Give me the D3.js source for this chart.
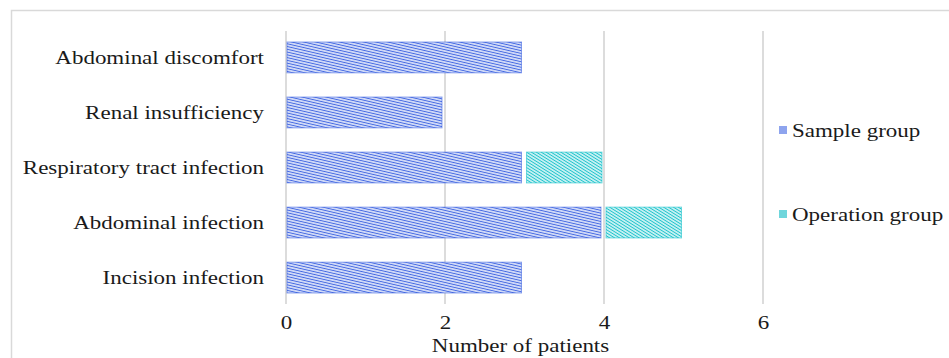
<!DOCTYPE html>
<html>
<head>
<meta charset="utf-8">
<script src="https://cdn.jsdelivr.net/npm/d3@7"></script>
<style>
  body { margin: 0; background: #fff; }
</style>
</head>
<body>
<div id="chart-area"></div>
<script>
const categories = ["Abdominal discomfort", "Renal insufficiency", "Respiratory tract infection", "Abdominal infection", "Incision infection"]
const sampleGroup = [3, 2, 3, 4, 3]
const operationGroup = [0, 0, 1, 1, 0]
const seriesNames = ["Sample group", "Operation group"]
const xTicks = [0, 2, 4, 6]

const W = 949, H = 358
const MARGIN = { left: 286, right: 186, top: 31, bottom: 54 }
const HEIGHT = H - MARGIN.top - MARGIN.bottom
const SERIF = "'Liberation Serif'"
const STRETCH = 1.21   // the reference text looks stretched sideways

// text in a serif face, widened around its own anchor point
function serifText(sel, x0, y0) {
    sel.attr("x", 0).attr("y", 0)
        .attr("font-family", null)
        .style("font-family", SERIF)
        .style("font-size", "19px")
        .style("fill", "#1a1a1a")
        .attr("transform", `translate(${x0}, ${y0}) scale(${STRETCH}, 1)`)
}

const svg = d3.select("#chart-area").append("svg")
    .attr("width", W)
    .attr("height", H)

// outer frame
svg.append("rect")
    .attr("x", 11.5).attr("y", 10.5)
    .attr("width", 960).attr("height", 360)
    .attr("fill", "none")
    .attr("stroke", "#d9d9d9")
    .attr("stroke-width", 1.5)

const defs = svg.append("defs")
function hatch(id, color, angle, gap) {
    const p = defs.append("pattern")
        .attr("id", id)
        .attr("patternUnits", "userSpaceOnUse")
        .attr("width", 40).attr("height", gap)
        .attr("patternTransform", `rotate(${angle})`)
    p.append("rect").attr("width", 40).attr("height", gap).attr("fill", "#fff")
    p.append("line")
        .attr("x1", 0).attr("x2", 40).attr("y1", gap / 2).attr("y2", gap / 2)
        .attr("stroke", color).attr("stroke-width", 1.4)
}
const colors = ["#4469e2", "#1ec3cc"]
hatch("hatch0", colors[0], 13, 2.7)
hatch("hatch1", colors[1], 32, 2.6)

const g = svg.append("g")
    .attr("transform", `translate(${MARGIN.left}, ${MARGIN.top})`)

const x = d3.scaleLinear()
    .domain([0, 6])
    .range([0, 477])

const y = d3.scaleBand()
    .domain(categories)
    .range([0, HEIGHT])
    .paddingInner(0.44)
    .paddingOuter(0.2)

// grid
g.selectAll(".grid")
    .data(xTicks)
    .enter().append("line")
    .attr("x1", d => x(d)).attr("x2", d => x(d))
    .attr("y1", 0).attr("y2", HEIGHT)
    .attr("stroke", "#d0d0d0")
    .attr("stroke-width", 1.5)

const xAxisCall = d3.axisBottom(x).tickValues(xTicks).tickFormat(d3.format("d")).tickSize(0)
const xAxis = g.append("g")
    .attr("transform", `translate(0, ${HEIGHT})`)
    .call(xAxisCall)
    .attr("font-family", null)
xAxis.select(".domain").remove()
xAxis.selectAll("text").attr("dy", null).call(serifText, 0, 25)

const yAxisCall = d3.axisLeft(y).tickSize(0)
const yAxis = g.append("g").call(yAxisCall)
    .attr("font-family", null)
yAxis.select(".domain").remove()
yAxis.selectAll("text").call(serifText, -22, 0)

g.append("text")
    .attr("text-anchor", "middle")
    .text("Number of patients")
    .call(serifText, x(3) - 4, HEIGHT + 48)

const rows = categories.map((c, i) => ({ cat: c, s: sampleGroup[i], o: operationGroup[i] }))

g.selectAll(".bar-s")
    .data(rows)
    .enter().append("rect")
    .attr("x", x(0) + 1)
    .attr("y", d => y(d.cat))
    .attr("width", d => x(d.s) - x(0) - 4)
    .attr("height", y.bandwidth())
    .attr("fill", "url(#hatch0)")
    .attr("stroke", colors[0])
    .attr("stroke-opacity", 0.6)

g.selectAll(".bar-o")
    .data(rows.filter(d => d.o > 0))
    .enter().append("rect")
    .attr("x", d => x(d.s) + 2)
    .attr("y", d => y(d.cat))
    .attr("width", d => x(d.s + d.o) - x(d.s) - 4)
    .attr("height", y.bandwidth())
    .attr("fill", "url(#hatch1)")
    .attr("stroke", colors[1])
    .attr("stroke-opacity", 0.6)

// legend
const legend = svg.append("g")
seriesNames.forEach((name, i) => {
    const ly = 130 + i * 84
    legend.append("rect")
        .attr("x", 779).attr("y", ly - 4)
        .attr("width", 8).attr("height", 8)
        .attr("fill", i === 0 ? "#8ea4ee" : "#6fd6dc")
    legend.append("text")
        .text(name)
        .call(serifText, 792, ly + 7)
})
</script>
</body>
</html>
